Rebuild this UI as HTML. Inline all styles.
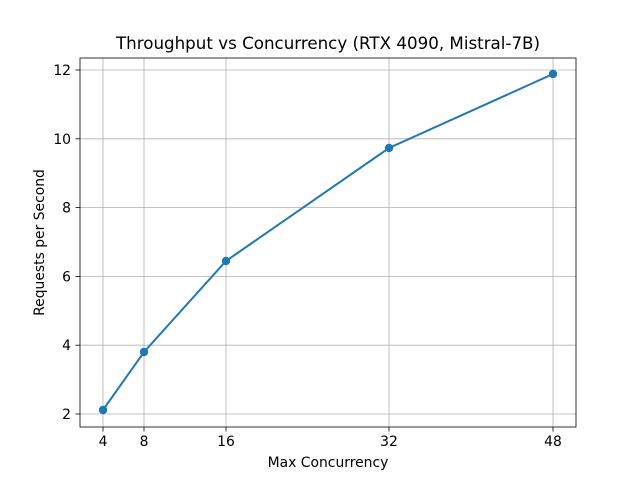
<!DOCTYPE html>
<html><head><meta charset="utf-8"><style>body{margin:0;background:#fff}svg{display:block}text{font-family:"DejaVu Sans","Liberation Sans",sans-serif;fill:#000}</style></head><body>
<svg width="640" height="480" xmlns="http://www.w3.org/2000/svg">
<rect width="640" height="480" fill="#fff"/>
<g stroke="#b0b0b0" stroke-width="0.8">
<line x1="103" y1="58" x2="103" y2="427"/><line x1="144" y1="58" x2="144" y2="427"/><line x1="226" y1="58" x2="226" y2="427"/><line x1="389" y1="58" x2="389" y2="427"/><line x1="553" y1="58" x2="553" y2="427"/>
<line x1="80" y1="414" x2="576" y2="414"/><line x1="80" y1="345.2" x2="576" y2="345.2"/><line x1="80" y1="276.4" x2="576" y2="276.4"/><line x1="80" y1="207.6" x2="576" y2="207.6"/><line x1="80" y1="138.8" x2="576" y2="138.8"/><line x1="80" y1="70" x2="576" y2="70"/>
</g>
<polyline points="103,410 144,352 226,261 389,148 553,74" fill="none" stroke="#1f77b4" stroke-width="2"/>
<g fill="#1f77b4"><circle cx="103" cy="410" r="4.2"/><circle cx="144" cy="352" r="4.2"/><circle cx="226" cy="261" r="4.2"/><circle cx="389" cy="148" r="4.2"/><circle cx="553" cy="74" r="4.2"/></g>
<rect x="80" y="58" width="496" height="369" fill="none" stroke="#000" stroke-width="0.8"/>
<g stroke="#000" stroke-width="0.8">
<line x1="103" y1="427" x2="103" y2="431.5"/><line x1="144" y1="427" x2="144" y2="431.5"/><line x1="226" y1="427" x2="226" y2="431.5"/><line x1="389" y1="427" x2="389" y2="431.5"/><line x1="553" y1="427" x2="553" y2="431.5"/>
<line x1="75.5" y1="414" x2="80" y2="414"/><line x1="75.5" y1="345.2" x2="80" y2="345.2"/><line x1="75.5" y1="276.4" x2="80" y2="276.4"/><line x1="75.5" y1="207.6" x2="80" y2="207.6"/><line x1="75.5" y1="138.8" x2="80" y2="138.8"/><line x1="75.5" y1="70" x2="80" y2="70"/>
</g>
<g font-size="13.9" text-anchor="middle">
<text x="103" y="446">4</text><text x="144" y="446">8</text><text x="226" y="446">16</text><text x="389" y="446">32</text><text x="553" y="446">48</text>
</g>
<g font-size="13.9" text-anchor="end">
<text x="71" y="419">2</text><text x="71" y="350">4</text><text x="71" y="281.5">6</text><text x="71" y="212.5">8</text><text x="71" y="144">10</text><text x="71" y="75">12</text>
</g>
<text x="328" y="467" font-size="13.9" text-anchor="middle">Max Concurrency</text>
<text transform="translate(44,242.5) rotate(-90)" font-size="13.9" text-anchor="middle">Requests per Second</text>
<text x="328" y="49" font-size="16.7" text-anchor="middle">Throughput vs Concurrency (RTX 4090, Mistral-7B)</text>
</svg>
</body></html>
